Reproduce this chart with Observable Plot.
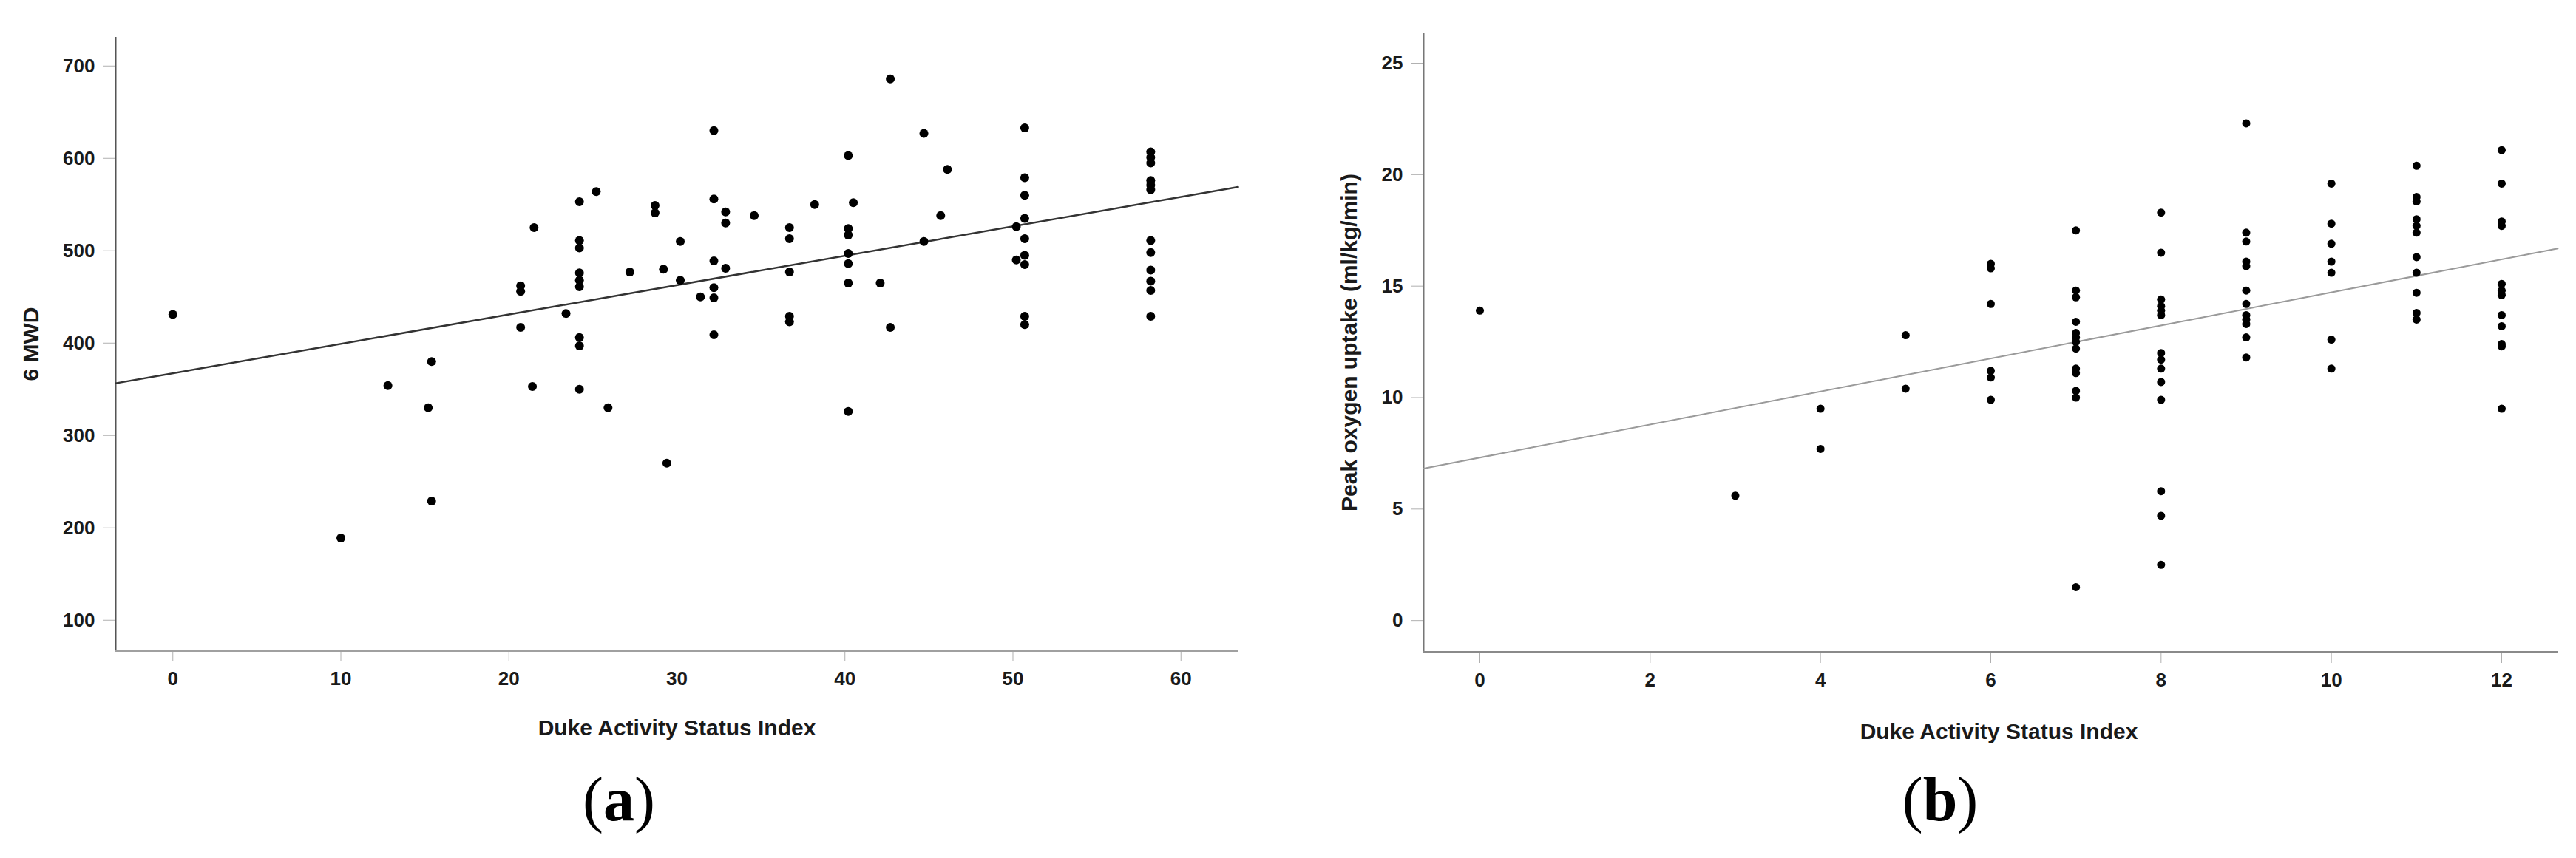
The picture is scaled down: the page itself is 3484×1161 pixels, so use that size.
<!DOCTYPE html>
<html>
<head>
<meta charset="utf-8">
<script src="https://cdn.jsdelivr.net/npm/d3@7"></script>
<script src="https://cdn.jsdelivr.net/npm/@observablehq/plot@0.6"></script>
<style>
  html, body { margin: 0; padding: 0; background: #fff; }
  #wrap { display: flex; width: 3484px; height: 1161px; overflow: hidden; }
  .panel { position: relative; width: 1742px; height: 1161px; }
  .panel svg { display: block; }
  .cap { position: absolute; top: 1040px; transform: translateX(-50%);
         font-family: "Liberation Serif", "Times New Roman", serif; font-size: 84px;
         line-height: 1; color: #000; white-space: nowrap; }
</style>
</head>
<body>
<div id="wrap">
  <div class="panel" id="pa"><div class="cap" style="left:837px">(<b>a</b>)</div></div>
  <div class="panel" id="pb"><div class="cap" style="left:882px">(<b>b</b>)</div></div>
</div>
<script>
// ---------- Panel (a): 6MWD vs DASI score ----------
const xTicksA = [0, 10, 20, 30, 40, 50, 60];
const yTicksA = [100, 200, 300, 400, 500, 600, 700];
const xDomainA = [-3.4, 63.4];
const yDomainA = [67, 731];
const xLabelA = "Duke Activity Status Index";
const yLabelA = "6 MWD";
const dasiA = [
  0, 10, 12.8, 15.2, 15.4, 15.4,
  20.7, 20.7, 20.7, 21.4, 21.5, 23.4,
  24.2, 24.2, 24.2, 24.2, 24.2, 24.2, 24.2, 24.2, 24.2,
  25.2, 25.9, 27.2, 28.7, 28.7, 29.2, 29.4, 30.2, 30.2, 31.4,
  32.2, 32.2, 32.2, 32.2, 32.2, 32.2,
  32.9, 32.9, 32.9, 34.6,
  36.7, 36.7, 36.7, 36.7, 36.7, 38.2,
  40.2, 40.5, 40.2, 40.2, 40.2, 40.2, 40.2, 40.2,
  42.1, 42.7, 42.7, 44.7, 44.7, 45.7, 46.1,
  50.2, 50.2,
  50.7, 50.7, 50.7, 50.7, 50.7, 50.7, 50.7, 50.7, 50.7,
  58.2, 58.2, 58.2, 58.2, 58.2, 58.2, 58.2, 58.2, 58.2, 58.2, 58.2, 58.2
];
const mwdA = [
  431, 189, 354, 330, 380, 229,
  462, 456, 417, 353, 525, 432,
  553, 511, 503, 476, 468, 461, 406, 397, 350,
  564, 330, 477, 549, 541, 480, 270, 510, 468, 450,
  630, 556, 489, 460, 449, 409,
  542, 530, 481, 538,
  525, 513, 477, 429, 423, 550,
  603, 552, 524, 517, 497, 486, 465, 326,
  465, 686, 417, 627, 510, 538, 588,
  526, 490,
  633, 579, 560, 535, 513, 495, 485, 429, 420,
  607, 601, 595, 576, 571, 566, 511, 498, 479, 467, 457, 429
];
const fitXA = [-3.4, 63.4];
const fitYA = [356.5, 569];

// ---------- Panel (b): peak VO2 vs DASI (items) ----------
const xTicksB = [0, 2, 4, 6, 8, 10, 12];
const yTicksB = [0, 5, 10, 15, 20, 25];
const xDomainB = [-0.66, 12.66];
const yDomainB = [-1.42, 26.36];
const xLabelB = "Duke Activity Status Index";
const yLabelB = "Peak oxygen uptake (ml/kg/min)";
const dasiB = [
  0, 3, 4, 4, 5, 5,
  6, 6, 6, 6, 6, 6,
  7, 7, 7, 7, 7, 7, 7, 7, 7, 7, 7, 7, 7,
  8, 8, 8, 8, 8, 8, 8, 8, 8, 8, 8, 8, 8, 8,
  9, 9, 9, 9, 9, 9, 9, 9, 9, 9, 9, 9,
  10, 10, 10, 10, 10, 10, 10,
  11, 11, 11, 11, 11, 11, 11, 11, 11, 11, 11,
  12, 12, 12, 12, 12, 12, 12, 12, 12, 12, 12, 12
];
const vo2B = [
  13.9, 5.6, 9.5, 7.7, 12.8, 10.4,
  16.0, 15.8, 14.2, 11.2, 10.9, 9.9,
  17.5, 14.8, 14.5, 13.4, 12.9, 12.7, 12.5, 12.2, 11.3, 11.1, 10.3, 10.0, 1.5,
  18.3, 16.5, 14.4, 14.1, 13.9, 13.7, 12.0, 11.7, 11.3, 10.7, 9.9, 5.8, 4.7, 2.5,
  22.3, 17.4, 17.0, 16.1, 15.9, 14.8, 14.2, 13.7, 13.5, 13.3, 12.7, 11.8,
  19.6, 17.8, 16.9, 16.1, 15.6, 12.6, 11.3,
  20.4, 19.0, 18.8, 18.0, 17.7, 17.4, 16.3, 15.6, 14.7, 13.8, 13.5,
  21.1, 19.6, 17.9, 17.7, 15.1, 14.8, 14.6, 13.7, 13.2, 12.4, 12.3, 9.5
];
const fitXB = [-0.66, 12.66];
const fitYB = [6.82, 16.69];

function makePanel(cfg) {
  const pts = cfg.xs.map((x, i) => ({x, y: cfg.ys[i]}));
  const fit = cfg.fitX.map((x, i) => ({x, y: cfg.fitY[i]}));
  return Plot.plot({
    width: 1742,
    height: 1030,
    marginLeft: cfg.ml,
    marginRight: cfg.mr,
    marginTop: cfg.mt,
    marginBottom: 1030 - cfg.bottom,
    style: {
      fontFamily: '"Liberation Sans", Arial, sans-serif',
      fontSize: "26px",
      color: "#1a1a1a",
      background: "#fff",
      overflow: "visible"
    },
    x: {domain: cfg.xDomain},
    y: {domain: cfg.yDomain},
    marks: [
      Plot.axisX({ticks: cfg.xTicks, tickSize: 15, tickPadding: 13, stroke: "#b0b0b0",
                  fill: "#1a1a1a", fontWeight: "bold", fontSize: 26, label: null}),
      Plot.axisY({ticks: cfg.yTicks, tickSize: 17, tickPadding: 11, stroke: "#b0b0b0",
                  fill: "#1a1a1a", fontWeight: "bold", fontSize: 26, label: null}),
      Plot.ruleX([cfg.xDomain[0]], {stroke: cfg.yAxisColor, strokeWidth: 2}),
      Plot.ruleY([cfg.yDomain[0]], {stroke: cfg.xAxisColor, strokeWidth: 3}),
      Plot.line(fit, {x: "x", y: "y", stroke: cfg.fitColor, strokeWidth: cfg.fitWidth}),
      Plot.dot(pts, {x: "x", y: "y", r: cfg.r, fill: "#000", stroke: "none"}),
      Plot.text([cfg.xLabel], {frameAnchor: "bottom", dy: cfg.xLabelDy, dx: cfg.xLabelDx,
                               textAnchor: "middle", lineAnchor: "middle",
                               fontSize: 30, fontWeight: "bold", fill: "#1a1a1a"}),
      Plot.text([cfg.yLabel], {frameAnchor: "left", dx: cfg.yLabelDx, rotate: -90,
                               textAnchor: "middle", lineAnchor: "middle",
                               fontSize: 30, fontWeight: "bold", fill: "#1a1a1a"})
    ]
  });
}

const plotA = makePanel({
  xs: dasiA, ys: mwdA, fitX: fitXA, fitY: fitYA,
  xDomain: xDomainA, yDomain: yDomainA, xTicks: xTicksA, yTicks: yTicksA,
  xLabel: xLabelA, yLabel: yLabelA,
  ml: 156, mr: 68, mt: 50, bottom: 880,
  yAxisColor: "#555", xAxisColor: "#a0a0a0",
  fitColor: "#333", fitWidth: 2.5, r: 6,
  xLabelDy: 105, xLabelDx: 0, yLabelDx: -114
});
const plotB = makePanel({
  xs: dasiB, ys: vo2B, fitX: fitXB, fitY: fitYB,
  xDomain: xDomainB, yDomain: yDomainB, xTicks: xTicksB, yTicks: yTicksB,
  xLabel: xLabelB, yLabel: yLabelB,
  ml: 183, mr: 25, mt: 44, bottom: 882,
  yAxisColor: "#777", xAxisColor: "#8a8a8a",
  fitColor: "#9a9a9a", fitWidth: 2, r: 5.5,
  xLabelDy: 108, xLabelDx: 11, yLabelDx: -100
});
document.getElementById("pa").prepend(plotA);
document.getElementById("pb").prepend(plotB);
</script>
</body>
</html>
